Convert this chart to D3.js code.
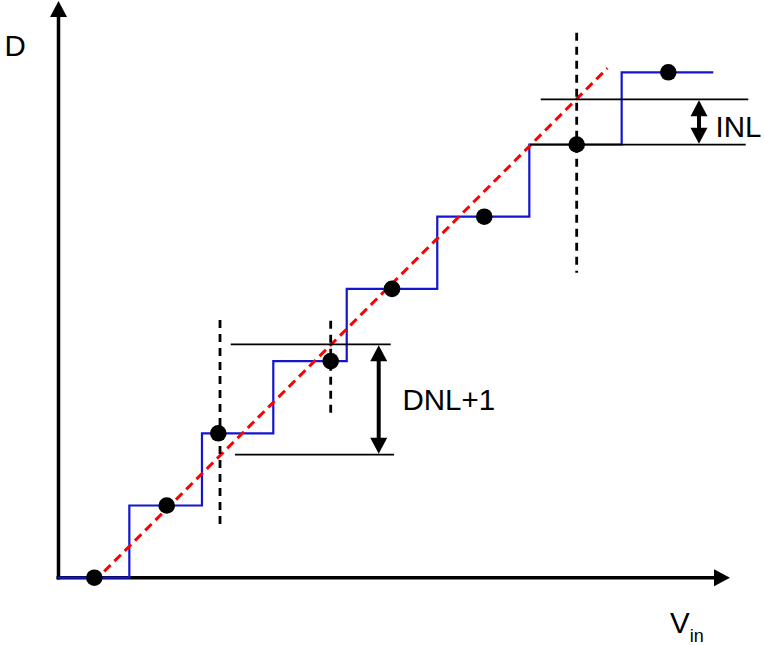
<!DOCTYPE html>
<html>
<head>
<meta charset="utf-8">
<script src="https://cdn.jsdelivr.net/npm/d3@7"></script>
<style>
  body { margin: 0; background: #fff; }
  text { font-family: "Liberation Sans", Arial, sans-serif; fill: #000; }
</style>
</head>
<body>
<svg width="764" height="645"></svg>
<script>
// step edges along Vin (LSB units), one step per output code
var stepEdges = [0, 0.988, 1.994, 2.982, 3.999, 5.253, 6.528, 7.807, 9.076]
var codes = [0, 1, 2, 3, 4, 5, 6, 7]
// sample points (Vin of the dot on each code)
var dotVin = [0.503, 1.506, 2.220, 3.777, 4.626, 5.904, 7.184, 8.453]
// ideal transfer line, code = Vin - offset
var idealVin = [0.64, 7.61]
var idealOffset = 0.553
// dashed verticals: Vin, code from, code to
var vMarks = [[2.244, 0.73, 3.569], [3.777, 2.281, 3.56], [7.184, 4.224, 7.548]]
// thin horizontal reference lines: code, Vin from, Vin to
var hMarks = [[3.233, 2.392, 4.608], [1.704, 2.452, 4.654], [6.626, 6.686, 9.561], [5.997, 6.537, 9.525]]
// double headed arrows: Vin, code from, code to
var arrows = [[4.442, 1.704, 3.233], [8.878, 5.997, 6.626]]

var svg = d3.select("svg")
var x = d3.scaleLinear().domain([0, 10]).range([58, 780])
var y = d3.scaleLinear().domain([0, 8]).range([577.7, 0.1])

// axes with arrow heads
var ox = x(0) + 0.5, oy = y(0)
svg.append("line")
	.attr("x1", ox).attr("y1", oy + 1.7).attr("x2", ox).attr("y2", 15)
	.attr("stroke", "#000").attr("stroke-width", 3.5)
svg.append("path").attr("d", `M${ox},1L${ox - 8.5},17L${ox + 8.5},17Z`)
svg.append("line")
	.attr("x1", x(0) - 1.5).attr("y1", oy).attr("x2", 716).attr("y2", oy)
	.attr("stroke", "#000").attr("stroke-width", 3.5)
svg.append("path").attr("d", `M730,${oy}L714,${oy - 8.5}L714,${oy + 8.5}Z`)

// staircase
var stair = []
codes.forEach(function(c, i) {
	stair.push([stepEdges[i], c])
	stair.push([stepEdges[i + 1], c])
})
svg.append("path")
	.attr("d", d3.line().x(d => x(d[0])).y(d => y(d[1]))(stair))
	.attr("fill", "none")
	.attr("stroke", "#1515d0")
	.attr("stroke-width", 2.2)

// ideal line
svg.append("line")
	.attr("x1", x(idealVin[0])).attr("y1", y(idealVin[0] - idealOffset))
	.attr("x2", x(idealVin[1])).attr("y2", y(idealVin[1] - idealOffset))
	.attr("stroke", "#ff0000")
	.attr("stroke-width", 3)
	.attr("stroke-dasharray", "9,5.5")

// reference lines
svg.selectAll("line.h").data(hMarks).enter().append("line")
	.attr("class", "h")
	.attr("x1", d => x(d[1])).attr("x2", d => x(d[2]))
	.attr("y1", d => y(d[0])).attr("y2", d => y(d[0]))
	.attr("stroke", "#000").attr("stroke-width", 1.7)

svg.selectAll("line.v").data(vMarks).enter().append("line")
	.attr("class", "v")
	.attr("x1", d => x(d[0])).attr("x2", d => x(d[0]))
	.attr("y1", d => y(d[2])).attr("y2", d => y(d[1]))
	.attr("stroke", "#000").attr("stroke-width", 2.8)
	.attr("stroke-dasharray", "8,6")

// double arrows
var hl = 17, hw = 8.5
arrows.forEach(function(a) {
	var cx = x(a[0]), top = y(a[2]), bot = y(a[1])
	svg.append("line")
		.attr("x1", cx).attr("x2", cx)
		.attr("y1", top + hl - 2).attr("y2", bot - hl + 2)
		.attr("stroke", "#000").attr("stroke-width", 4)
	svg.append("path")
		.attr("d", `M${cx},${top + 1}L${cx - hw},${top + hl}L${cx + hw},${top + hl}Z`)
	svg.append("path")
		.attr("d", `M${cx},${bot - 1}L${cx - hw},${bot - hl}L${cx + hw},${bot - hl}Z`)
})

// sample dots
svg.selectAll("circle.dot").data(codes).enter().append("circle")
	.attr("class", "dot")
	.attr("cx", (c, i) => x(dotVin[i]))
	.attr("cy", c => y(c))
	.attr("r", 8.3)
	.attr("fill", "#000")

// labels
svg.append("text").attr("x", 4.5).attr("y", 55.7).attr("font-size", 29.5).text("D")
svg.append("text").attr("x", 402.5).attr("y", 410).attr("font-size", 29.5).text("DNL+1")
svg.append("text").attr("x", 715.5).attr("y", 137).attr("font-size", 29.5).text("INL")
var vin = svg.append("text").attr("x", 670).attr("y", 633.3).attr("font-size", 29.5)
vin.append("tspan").text("V")
vin.append("tspan").attr("font-size", 18).attr("dy", 8.2).text("in")
</script>
</body>
</html>
